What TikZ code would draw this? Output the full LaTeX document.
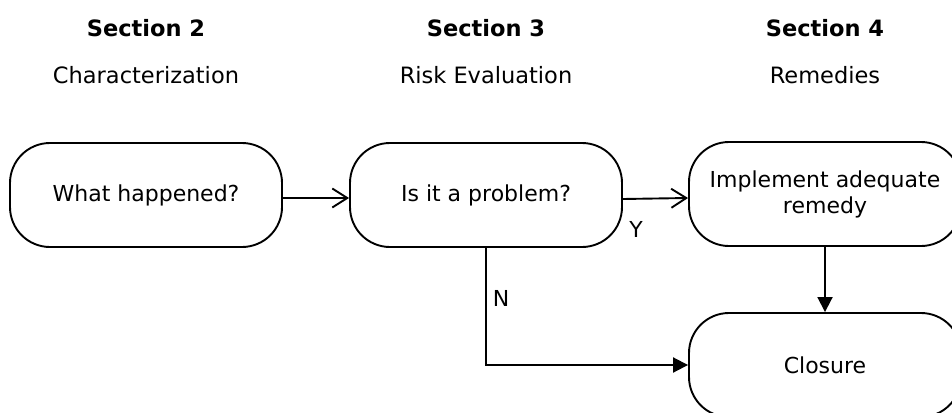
\documentclass[tikz,border=0pt]{standalone}
\usepackage{fontspec}
\setmainfont{DejaVu Sans}
\usetikzlibrary{arrows.meta}
\begin{document}
\begin{tikzpicture}[x=1pt,y=-1pt,
  term/.style={draw,line width=1.9pt,rounded corners=40pt,minimum width=272pt,minimum height=104pt,
    inner sep=0pt,align=center,font=\fontsize{22}{26}\selectfont},
  head/.style={font=\fontsize{22.5}{26}\selectfont\bfseries},
  sub/.style={font=\fontsize{22.5}{26}\selectfont},
  lbl/.style={font=\fontsize{22}{26}\selectfont},
  conn/.style={line width=1.9pt},
  openarrow/.style={conn,-{Straight Barb[length=15pt,width=19pt,line width=1.9pt]}},
  fillarrow/.style={conn,-{Triangle[length=15pt,width=15pt]}}
]
\useasboundingbox (0,0) rectangle (952,412);
\clip (0,0) rectangle (952,412);
\fill[white] (0,0) rectangle (952,412);

\node[head] (h2) at (146,28) {Section 2};
\node[head] (h3) at (486,28) {Section 3};
\node[head] (h4) at (825,28) {Section 4};
\node[sub] (s2) at (146,75) {Characterization};
\node[sub] (s3) at (486,75) {Risk Evaluation};
\node[sub] (s4) at (825,75) {Remedies};

\node[term] (a) at (146,195) {What happened?};
\node[term] (b) at (486,195) {Is it a problem?};
\node[term] (c) at (825,194) {Implement adequate\\remedy};
\node[term] (d) at (825,365) {Closure};

\draw[openarrow] ([yshift=-3pt]a.east) -- ([yshift=-3pt]b.west);
\draw[openarrow] ([yshift=-4pt]b.east) -- ([yshift=-4pt]c.west);
\draw[fillarrow] (c.south) -- (d.north);
\draw[fillarrow] (b.south) -- (b.south |- d.west) -- (d.west);

\node[lbl] (y) at (636,229) {Y};
\node[lbl] (n) at (501,298) {N};
\end{tikzpicture}
\end{document}
